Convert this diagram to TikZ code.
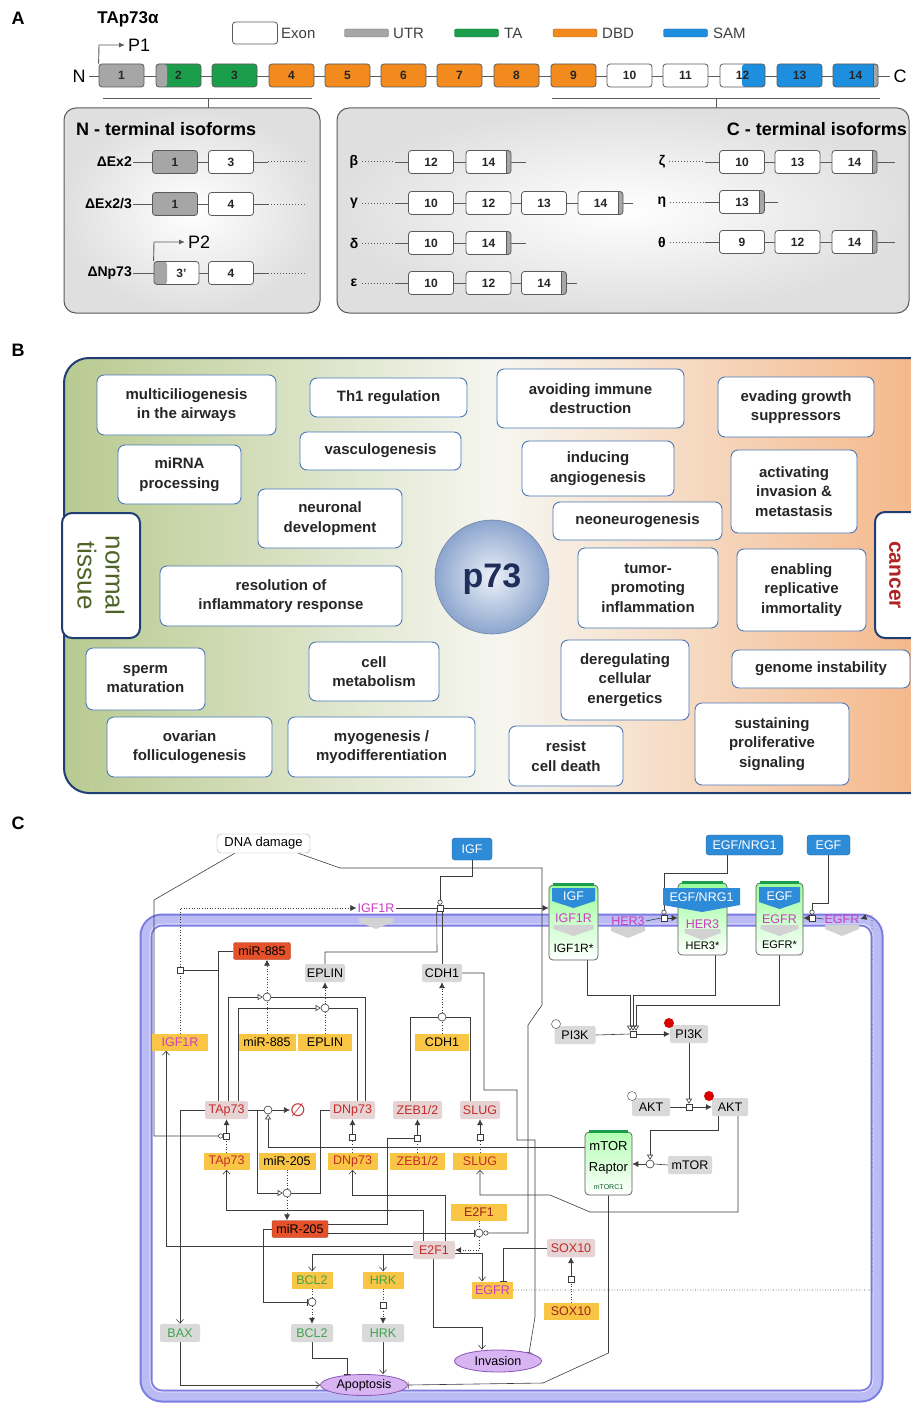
\documentclass[tikz,border=0pt]{standalone}
\usepackage{fontspec}
\setmainfont{Liberation Sans}
\newfontfamily\djv{DejaVu Sans}
\usetikzlibrary{arrows.meta,shapes.geometric,calc}
\pgfdeclarelayer{mem}\pgfdeclarelayer{bg}\pgfsetlayers{mem,bg,main}
\newcommand\fsz[2]{\fontsize{#1}{#2}\selectfont}
\definecolor{exgrey}{HTML}{A6A6A6}
\definecolor{exgreen}{HTML}{1B9E4B}
\definecolor{exorange}{HTML}{F28A1E}
\definecolor{exblue}{HTML}{1E8FDF}
\definecolor{exline}{HTML}{5A5A5A}
\definecolor{navy}{HTML}{1F3D73}
\definecolor{bbord}{HTML}{4A78B8}
\definecolor{olive}{HTML}{B8CA90}
\definecolor{peach}{HTML}{F5B586}
\definecolor{bmid}{HTML}{F6F6F0}
\definecolor{tissue}{HTML}{4F6228}
\definecolor{cancerred}{HTML}{B22222}
\definecolor{geneY}{HTML}{F9C545}
\definecolor{protG}{HTML}{D9D9D9}
\definecolor{protR}{HTML}{E6D3D3}
\definecolor{mirR}{HTML}{E4512A}
\definecolor{txred}{HTML}{C42B2B}
\definecolor{txmag}{HTML}{CC3CC0}
\definecolor{txgreen}{HTML}{3FA34D}
\definecolor{igfblue}{HTML}{2E8BD8}
\definecolor{memout}{HTML}{7B7BE2}
\definecolor{memin}{HTML}{BCBCF4}
\definecolor{ellfill}{HTML}{D8B4F2}
\definecolor{ellline}{HTML}{8A55B5}
\definecolor{lncol}{HTML}{3C3C3C}
\definecolor{p73edge}{HTML}{8CA5CE}
\tikzset{
 exonbox/.style={draw=exline, line width=0.8pt, rounded corners=3pt, minimum width=45pt, minimum height=23pt, inner sep=0pt, font=\bfseries\fsz{12}{12}, text=black!85, fill=#1},
 exonbox/.default=white,
 capR/.style={path picture={\fill[exgrey] ([xshift=-5pt]path picture bounding box.south east) rectangle (path picture bounding box.north east); \draw[exline, line width=0.8pt] ([xshift=-5pt]path picture bounding box.south east) -- ([xshift=-5pt]path picture bounding box.north east);}},
 capL/.style={path picture={\fill[exgrey] (path picture bounding box.south west) rectangle ([xshift=#1]path picture bounding box.north west);}},
 halfblue/.style={path picture={\fill[exblue] ([xshift=-23pt]path picture bounding box.south east) rectangle (path picture bounding box.north east);}},
 legtxt/.style={anchor=west, font=\fsz{15}{15}, text=black!75, inner sep=0pt},
 legbar/.style={fill=#1, draw=#1!70!black, rounded corners=2pt, minimum width=44pt, minimum height=8pt, inner sep=0pt},
 isolab/.style={font=\bfseries\fsz{14}{14}, inner sep=1pt},
 exl/.style={draw=exline, line width=0.8pt},
 exd/.style={draw=exline, line width=1pt, dotted},
 bbox/.style={draw=bbord, line width=0.9pt, rounded corners=7pt, fill=white, align=center, inner sep=1pt, font=\bfseries\fsz{15}{19.5}, text=black!85},
 gene/.style={fill=geneY, inner sep=0pt, minimum height=17pt, font=\fsz{12.5}{14}},
 prot/.style={fill=protG, rounded corners=2pt, inner sep=0pt, minimum height=18pt, font=\fsz{12.5}{14}},
 protr/.style={prot, fill=protR},
 mir/.style={fill=mirR, draw=mirR!70!black, rounded corners=2pt, inner sep=0pt, minimum height=17pt, font=\fsz{12.5}{14}},
 proc/.style={draw=lncol, fill=white, minimum size=6pt, inner sep=0pt, line width=0.6pt},
 circ/.style={draw=lncol, fill=white, circle, minimum size=8pt, inner sep=0pt, line width=0.6pt},
 wire/.style={draw=lncol, line width=0.6pt},
 oa/.style={-{Straight Barb[length=4pt,width=7pt]}},
 fa/.style={-{Latex[length=6pt,width=6pt]}},
 bar/.style={-{Bar[width=7pt]}},
 cat/.style={-{Circle[open,length=5pt,width=5pt]}},
 tri/.style={-{Triangle[open,length=5pt,width=6pt]}},
 pheno/.style={ellipse, draw=ellline, fill=ellfill, line width=0.8pt, inner sep=0pt, font=\fsz{12.5}{14}},
 blu/.style={fill=igfblue, draw=igfblue!70!black, rounded corners=3pt, text=white, inner sep=0pt, font=\fsz{12.5}{14}},
 rtxt/.style={text=txmag, font=\fsz{12.5}{14}, inner sep=1pt},
 ctxt/.style={font=\fsz{12}{14}, inner sep=1pt},
}
\newcommand\grch[3]{\fill[gray!35] (#1-#3,#2) -- (#1+#3,#2) -- (#1+#3,#2+4) -- (#1,#2+11) -- (#1-#3,#2+4) -- cycle;}
\begin{document}
\begin{tikzpicture}[x=1pt,y=-1pt]
\useasboundingbox (0,0) rectangle (910,1407);
\begin{pgfonlayer}{mem}
\fill[white] (0,0) rectangle (910,1407);
\end{pgfonlayer}
% ================= PANEL A =================
\node[font=\bfseries\fsz{18}{18}] (labA) at (18,18) {A};
\node[font=\bfseries\fsz{17}{17}] (tap) at (128,19) {TAp73α};
\node[draw=exline, line width=0.8pt, rounded corners=3pt, minimum width=45pt, minimum height=22pt, inner sep=0pt] (lgEx) at (255,33) {};
\node[legtxt] (lgExT) at (281,33) {Exon};
\node[legbar=exgrey] (lgUTR) at (366.5,33) {};
\node[legtxt] (lgUTRT) at (393,33) {UTR};
\node[legbar=exgreen] (lgTA) at (476.5,33) {};
\node[legtxt] (lgTAT) at (504,33) {TA};
\node[legbar=exorange] (lgDBD) at (575,33) {};
\node[legtxt] (lgDBDT) at (602,33) {DBD};
\node[legbar=exblue] (lgSAM) at (685.5,33) {};
\node[legtxt] (lgSAMT) at (713,33) {SAM};
\node[font=\fsz{18}{18}] (Nt) at (79,76) {N};
\node[font=\fsz{18}{18}] (Ct) at (900,76) {C};
\draw[exl] (Nt.east) -- (Ct.west);
\node[exonbox=exgrey] (e1) at (121.5,75.5) {1};
\node[exonbox=exgreen, capL=11pt] (e2) at (178.5,75.5) {2};
\node[exonbox=exgreen] (e3) at (234.5,75.5) {3};
\node[exonbox=exorange] (e4) at (291.5,75.5) {4};
\node[exonbox=exorange] (e5) at (347.5,75.5) {5};
\node[exonbox=exorange] (e6) at (403.5,75.5) {6};
\node[exonbox=exorange] (e7) at (459.5,75.5) {7};
\node[exonbox=exorange] (e8) at (516.5,75.5) {8};
\node[exonbox=exorange] (e9) at (573.5,75.5) {9};
\node[exonbox] (e10) at (629.5,75.5) {10};
\node[exonbox] (e11) at (685.5,75.5) {11};
\node[exonbox, halfblue] (e12) at (742.5,75.5) {12};
\node[exonbox=exblue] (e13) at (799.5,75.5) {13};
\node[exonbox=exblue, capR] (e14) at (855.5,75.5) {14};
\node[font=\fsz{18}{18}, anchor=west, inner sep=0pt] (P1) at (128,45) {P1};
\draw[exl, line width=0.9pt, -{Latex[length=6pt,width=5pt]}] (e1.north west) -- (99,45) -- ([xshift=-3pt]P1.west);
% brackets
\coordinate (brL) at (208,108);
\coordinate (brR) at (716,108);
\draw[exl] (103,98) -- (312,98) (208,98) -- (brL);
\draw[exl] (552,98) -- (880,98) (716,98) -- (brR);
% N-terminal box
\shade[inner color=white, outer color=gray!25, rounded corners=12pt] (64,108) rectangle (320,313);
\draw[exline, line width=1pt, rounded corners=12pt] (64,108) rectangle (320,313);
\node[anchor=west, font=\bfseries\fsz{18}{18}, inner sep=0pt] (ntit) at (76,129) {N - terminal isoforms};
\node[isolab, anchor=east] (lEx2) at (133,162) {ΔEx2};
\draw[exl] (lEx2.east) -- (268,162); \draw[exd] (268,162) -- (307,162);
\node[exonbox=exgrey] (n1a) at (175,162) {1};
\node[exonbox] (n1b) at (231,162) {3};
\node[isolab, anchor=east] (lEx23) at (133,204) {ΔEx2/3};
\draw[exl] (lEx23.east) -- (268,204); \draw[exd] (268,204) -- (307,204);
\node[exonbox=exgrey] (n2a) at (175,204) {1};
\node[exonbox] (n2b) at (231,204) {4};
\node[isolab, anchor=east] (lDN) at (133,273) {ΔNp73};
\draw[exl] (lDN.east) -- (268,273); \draw[exd] (268,273) -- (307,273);
\node[exonbox, capL=13pt] (n3a) at (176.5,273) {\hspace{10pt}3'};
\node[exonbox] (n3b) at (231,273) {4};
\node[font=\fsz{18}{18}, anchor=west, inner sep=0pt] (P2) at (188,242) {P2};
\draw[exl, line width=0.9pt, -{Latex[length=6pt,width=5pt]}] (n3a.north west) -- (154,242) -- ([xshift=-3pt]P2.west);
% C-terminal box
\shade[inner color=white, outer color=gray!25, rounded corners=12pt] (337,108) rectangle (909,313);
\draw[exline, line width=1pt, rounded corners=12pt] (337,108) rectangle (909,313);
\node[anchor=east, font=\bfseries\fsz{18}{18}, inner sep=0pt] (ctit) at (907,129) {C - terminal isoforms};
% beta
\node[isolab] (lb) at (354,162) {β};
\draw[exd] ([xshift=3pt]lb.east) -- (395,162); \draw[exl] (395,162) -- (526,162);
\node[exonbox] (b12) at (431,162) {12};
\node[exonbox, capR] (b14) at (488.5,162) {14};
% gamma
\node[isolab] (lg) at (354,203) {γ};
\draw[exd] ([xshift=3pt]lg.east) -- (395,203); \draw[exl] (395,203) -- (633,203);
\node[exonbox] (g10) at (431,203) {10};
\node[exonbox] (g12) at (488.5,203) {12};
\node[exonbox] (g13) at (544,203) {13};
\node[exonbox, capR] (g14) at (600.5,203) {14};
% delta
\node[isolab] (ld) at (354,243) {δ};
\draw[exd] ([xshift=3pt]ld.east) -- (395,243); \draw[exl] (395,243) -- (526,243);
\node[exonbox] (d10) at (431,243) {10};
\node[exonbox, capR] (d14) at (488.5,243) {14};
% epsilon
\node[isolab] (le) at (354,283) {ε};
\draw[exd] ([xshift=3pt]le.east) -- (395,283); \draw[exl] (395,283) -- (577,283);
\node[exonbox] (p10) at (431,283) {10};
\node[exonbox] (p12) at (488.5,283) {12};
\node[exonbox, capR] (p14) at (544,283) {14};
% zeta
\node[isolab] (lz) at (662,162) {ζ};
\draw[exd] ([xshift=3pt]lz.east) -- (705,162); \draw[exl] (705,162) -- (895,162);
\node[exonbox] (z10) at (742,162) {10};
\node[exonbox] (z13) at (797.5,162) {13};
\node[exonbox, capR] (z14) at (854.5,162) {14};
% eta
\node[isolab] (lh) at (662,202) {η};
\draw[exd] ([xshift=3pt]lh.east) -- (705,202); \draw[exl] (705,202) -- (778,202);
\node[exonbox, capR] (h13) at (742,202) {13};
% theta
\node[isolab] (lt) at (662,242) {θ};
\draw[exd] ([xshift=3pt]lt.east) -- (705,242); \draw[exl] (705,242) -- (895,242);
\node[exonbox] (t9) at (742,242) {9};
\node[exonbox] (t12) at (797.5,242) {12};
\node[exonbox, capR] (t14) at (854.5,242) {14};
% ================= PANEL B =================
\node[font=\bfseries\fsz{18}{18}] (labB) at (18,350) {B};
\shade[left color=olive, right color=peach, middle color=bmid, rounded corners=25pt] (64,358) rectangle (935,793);
\draw[navy, line width=2pt, rounded corners=25pt] (64,358) rectangle (935,793);
\draw[navy, line width=2pt, fill=white, rounded corners=10pt] (62,513) rectangle (140,638);
\node[rotate=-90, align=center, text=tissue, font=\fsz{26}{28}] (normal) at (101,575.5) {normal\\tissue};
\draw[navy, line width=2pt, fill=white, rounded corners=10pt] (875,512) rectangle (935,638);
\node[rotate=-90, text=cancerred, font=\bfseries\fsz{21}{24}] (cancer) at (895,575) {cancer};
\node[bbox, minimum width=179pt, minimum height=60pt] (b1) at (186.5,405) {multiciliogenesis\\in the airways};
\node[bbox, minimum width=157pt, minimum height=39pt] (b2) at (388.5,397.5) {Th1 regulation};
\node[bbox, minimum width=123pt, minimum height=59pt] (b3) at (179.5,474.5) {miRNA\\processing};
\node[bbox, minimum width=161pt, minimum height=38pt] (b4) at (380.5,451) {vasculogenesis};
\node[bbox, minimum width=144pt, minimum height=59pt] (b5) at (330,518.5) {neuronal\\development};
\node[bbox, minimum width=242pt, minimum height=60pt] (b6) at (281,596) {resolution of\\inflammatory response};
\node[bbox, minimum width=119pt, minimum height=62pt] (b7) at (145.5,679) {sperm\\maturation};
\node[bbox, minimum width=130pt, minimum height=59pt] (b8) at (374,671.5) {cell\\metabolism};
\node[bbox, minimum width=165pt, minimum height=60pt] (b9) at (189.5,747) {ovarian\\folliculogenesis};
\node[bbox, minimum width=187pt, minimum height=60pt] (b10) at (381.5,747) {myogenesis /\\myodifferentiation};
\node[bbox, minimum width=187pt, minimum height=59pt] (b11) at (590.5,398.5) {avoiding immune\\destruction};
\node[bbox, minimum width=156pt, minimum height=60pt] (b12) at (796,407) {evading growth\\suppressors};
\node[bbox, minimum width=152pt, minimum height=55pt] (b13) at (598,468.5) {inducing\\angiogenesis};
\node[bbox, minimum width=126pt, minimum height=83pt] (b14) at (794,491.5) {activating\\invasion \&\\metastasis};
\node[bbox, minimum width=169pt, minimum height=38pt] (b15) at (637.5,521) {neoneurogenesis};
\node[bbox, minimum width=140pt, minimum height=80pt] (b16) at (648,588) {tumor-\\promoting\\inflammation};
\node[bbox, minimum width=129pt, minimum height=82pt] (b17) at (801.5,590) {enabling\\replicative\\immortality};
\node[bbox, minimum width=128pt, minimum height=80pt] (b18) at (625,680) {deregulating\\cellular\\energetics};
\node[bbox, minimum width=178pt, minimum height=38pt] (b19) at (821,669) {genome instability};
\node[bbox, minimum width=114pt, minimum height=60pt] (b20) at (566,756) {resist\\cell death};
\node[bbox, minimum width=154pt, minimum height=82pt] (b21) at (772,744) {sustaining\\proliferative\\signaling};
\shade[inner color={rgb,255:red,236;green,241;blue,248}, outer color=p73edge] (492,577) circle[radius=57pt];
\draw[p73edge!80!black, line width=0.6pt] (492,577) circle[radius=57pt];
\node[font=\bfseries\fsz{34}{34}, text={rgb,255:red,31;green,45;blue,90}] (p73) at (492,579) {p73};
% ================= PANEL C =================
\node[font=\bfseries\fsz{18}{18}] (labC) at (18,823) {C};
\begin{pgfonlayer}{mem}
\draw[memout, line width=13pt, rounded corners=16pt] (146,920) rectangle (877,1396);
\draw[memin, line width=9pt, rounded corners=16pt] (146,920) rectangle (877,1396);
\draw[white!70!memin, line width=0.8pt, rounded corners=12pt] (150,924) rectangle (873,1392);
\end{pgfonlayer}
\node[draw=gray!70, fill=white, rounded corners=4pt, minimum width=93pt, minimum height=19pt, inner sep=0pt, font=\fsz{13}{14}] (dna) at (263.5,843.5) {DNA damage};
\node[blu, minimum width=40pt, minimum height=22pt] (igf) at (472,849) {IGF};
\node[blu, minimum width=77pt, minimum height=20pt] (egfnrg) at (744.5,845) {EGF/NRG1};
\node[blu, minimum width=43pt, minimum height=20pt] (egf) at (828.5,845) {EGF};
% free receptors
\grch{376}{918}{17}
\node[rtxt] (rIGF1R) at (376,908) {IGF1R};
\grch{628}{927}{17}
\node[rtxt] (rHER3) at (628,921) {HER3};
\grch{842}{925}{17}
\node[rtxt] (rEGFR) at (842,919) {EGFR};
% complexes
\node[draw=exline, line width=0.7pt, rounded corners=4pt, minimum width=49pt, minimum height=75pt, top color=green!40!white, bottom color=white, inner sep=0pt] (cIGF) at (573.5,922.5) {};
\draw[exgreen, line width=2.5pt] ([xshift=4pt]cIGF.north west) -- ([xshift=-4pt]cIGF.north east);
\fill[igfblue] (552,888) -- (595,888) -- (595,901) -- (573.5,908) -- (552,901) -- cycle;
\node[ctxt, text=white, font=\fsz{12.5}{14}] (tIGF) at (573.5,896) {IGF};
\grch{573.5}{925}{20}
\node[rtxt] (tIGF1R) at (573.5,918) {IGF1R};
\node[ctxt] (tIGF1Rs) at (573.5,948) {IGF1R*};
\node[draw=exline, line width=0.7pt, rounded corners=4pt, minimum width=49pt, minimum height=72pt, top color=green!40!white, bottom color=white, inner sep=0pt] (cHER3) at (702.5,919) {};
\draw[exgreen, line width=2.5pt] ([xshift=4pt]cHER3.north west) -- ([xshift=-4pt]cHER3.north east);
\fill[igfblue] (663,888) -- (740,888) -- (740,905) -- (702,912) -- (663,905) -- cycle;
\node[ctxt, text=white, font=\fsz{12.5}{14}] (tEN) at (701.5,897) {EGF/NRG1};
\grch{702.5}{929}{18}
\node[rtxt] (tHER3) at (702.5,924) {HER3};
\node[ctxt, font=\fsz{11}{13}] (tHER3s) at (702.5,946) {HER3*};
\node[draw=exline, line width=0.7pt, rounded corners=4pt, minimum width=47pt, minimum height=72pt, top color=green!40!white, bottom color=white, inner sep=0pt] (cEGF) at (779.5,919) {};
\draw[exgreen, line width=2.5pt] ([xshift=4pt]cEGF.north west) -- ([xshift=-4pt]cEGF.north east);
\fill[igfblue] (759,887) -- (800,887) -- (800,902) -- (779.5,909) -- (759,902) -- cycle;
\node[ctxt, text=white, font=\fsz{12.5}{14}] (tEGF) at (779.5,896) {EGF};
\grch{779.5}{925}{19}
\node[rtxt] (tEGFR) at (779.5,919) {EGFR};
\node[ctxt, font=\fsz{11}{13}] (tEGFRs) at (779.5,945) {EGFR*};
% species
\node[mir, minimum width=57pt] (mir885) at (262,951) {miR-885};
\node[prot, minimum width=40pt] (eplinP) at (325,973) {EPLIN};
\node[prot, minimum width=40pt] (cdh1P) at (442,973) {CDH1};
\node[gene, minimum width=56pt, text=txmag] (igf1rG) at (180,1042) {IGF1R};
\node[gene, minimum width=57pt] (mir885G) at (267,1042) {miR-885};
\node[gene, minimum width=54pt] (eplinG) at (325,1042) {EPLIN};
\node[gene, minimum width=54pt] (cdh1G) at (442,1042) {CDH1};
\node[protr, minimum width=43pt, text=txred] (tap73P) at (226.5,1110) {TAp73};
\node[protr, minimum width=45pt, text=txred] (dnp73P) at (352.5,1110) {DNp73};
\node[protr, minimum width=49pt, text=txred] (zebP) at (417.5,1110) {ZEB1/2};
\node[protr, minimum width=40pt, text=txred] (slugP) at (480,1110) {SLUG};
\node[gene, minimum width=46pt, text=txred] (tap73G) at (226.5,1161) {TAp73};
\node[gene, minimum width=57pt] (mir205G) at (287,1161) {miR-205};
\node[gene, minimum width=50pt, text=txred] (dnp73G) at (352.5,1161) {DNp73};
\node[gene, minimum width=55pt, text=txred] (zebG) at (417.5,1161) {ZEB1/2};
\node[gene, minimum width=54pt, text=txred] (slugG) at (480,1161) {SLUG};
\node[gene, minimum width=56pt, text=txred!80!black] (e2f1G) at (479,1212) {E2F1};
\node[mir, minimum width=56pt] (mir205R) at (300,1229) {miR-205};
\node[protr, minimum width=42pt, text=txred] (e2f1P) at (434,1250) {E2F1};
\node[gene, minimum width=41pt, text=txgreen] (bcl2G) at (312,1280) {BCL2};
\node[gene, minimum width=41pt, text=txgreen] (hrkG) at (383,1280) {HRK};
\node[gene, minimum width=41pt, text=txmag] (egfrG) at (492.5,1290) {EGFR};
\node[protr, minimum width=48pt, text=txred] (sox10P) at (571,1248) {SOX10};
\node[gene, minimum width=55pt, text=txred!80!black] (sox10G) at (571,1311) {SOX10};
\node[prot, minimum width=40pt, text=txgreen] (baxP) at (180,1333) {BAX};
\node[prot, minimum width=42pt, text=txgreen] (bcl2P) at (312,1333) {BCL2};
\node[prot, minimum width=42pt, text=txgreen] (hrkP) at (383,1333) {HRK};
\node[pheno, minimum width=87pt, minimum height=22pt] (invasion) at (498,1361) {Invasion};
\node[pheno, minimum width=87pt, minimum height=21pt] (apop) at (364,1385) {Apoptosis};
\node[prot, minimum width=41pt] (pi3kA) at (575,1035) {PI3K};
\node[prot, minimum width=38pt] (pi3kB) at (689,1034) {PI3K};
\node[prot, minimum width=38pt] (aktA) at (651,1107) {AKT};
\node[prot, minimum width=36pt] (aktB) at (730,1107) {AKT};
\node[prot, minimum width=44pt] (mtor) at (690,1165) {mTOR};
\node[circle, draw=lncol, fill=white, minimum size=9pt, inner sep=0pt] (pi3kAc) at (556,1024) {};
\node[circle, fill=red!85!black, minimum size=10pt, inner sep=0pt] (pi3kBd) at (669,1023) {};
\node[circle, draw=lncol, fill=white, minimum size=9pt, inner sep=0pt] (aktAc) at (632,1096) {};
\node[circle, fill=red!85!black, minimum size=10pt, inner sep=0pt] (aktBd) at (709,1096) {};
\node[draw=exline, line width=0.7pt, rounded corners=4pt, minimum width=47pt, minimum height=63pt, top color=green!30!white, bottom color=white, inner sep=0pt] (mtorc) at (608.5,1163.5) {};
\draw[exgreen, line width=2.5pt] ([xshift=4pt]mtorc.north west) -- ([xshift=-4pt]mtorc.north east);
\node[font=\fsz{13}{14}, inner sep=0pt] (mtorcA) at (608.5,1146) {mTOR};
\node[font=\fsz{13}{14}, inner sep=0pt] (mtorcB) at (608.5,1168) {Raptor};
\node[font=\fsz{7}{8}, inner sep=0pt, text=exgreen!60!black] (mtorcC) at (608.5,1187) {mTORC1};
\node[text=txred, font=\djv\fsz{18}{18}, inner sep=0pt] (empty) at (298,1110) {∅};
% process nodes
\node[proc] (pIGF) at (440,908) {};
\node[proc] (pIGF1Rt) at (180,970) {};
\node[circ] (cMir885) at (267,997) {};
\node[circ] (cEplin) at (325,1008) {};
\node[circ] (cCdh1) at (442,1017) {};
\node[circ] (cDeg) at (268,1110) {};
\node[proc] (pTAp73) at (226.5,1136) {};
\node[proc] (pDN) at (352.5,1137) {};
\node[proc] (pZEB) at (417.5,1138) {};
\node[proc] (pSLUG) at (480,1137) {};
\node[circ] (cMir205) at (287,1193) {};
\node[circ] (cE2F1) at (479,1233) {};
\node[circ] (cBCL2) at (312,1302) {};
\node[proc] (pHRK) at (383,1305) {};
\node[proc] (pSOX) at (571,1279) {};
\node[proc] (pPI3K) at (633,1034) {};
\node[proc] (pAKT) at (689,1107) {};
\node[circ] (cMTOR) at (650,1164) {};
\node[proc] (pHER3) at (664,918) {};
\node[proc] (pEGF) at (812,918) {};
\begin{pgfonlayer}{bg}
% DNA damage
\draw[wire, cat] ([xshift=18pt]dna.south west) -- (154,900) -- (154,1136) -- (pTAp73.west);
\draw[wire, cat] ([xshift=-12pt]dna.south east) -- (340,868) -- (542,868) -- (542,1005) -- (528,1025) -- (528,1233) -- (cE2F1.east);
% receptor activation
\draw[wire, cat] (igf.south) -- (472,876) -- (440,876) -- (pIGF.north);
\draw[wire] (rIGF1R.east) -- (pIGF.west);
\draw[wire, fa] (pIGF.east) -- (pIGF.east -| cIGF.west);
\draw[wire] (eplinP.north) |- (437,952) -- (pIGF.south west);
\draw[wire] (cdh1P.north) -- (cdh1P.north |- pIGF.south);
\draw[wire] (rHER3.east) -- (pHER3.west);
\draw[wire, fa] (pHER3.east) -- (pHER3.east -| cHER3.west);
\draw[wire, cat] ([xshift=-17.5pt]egfnrg.south) -- (727,873) -- (664,873) -- (pHER3.north);
\draw[wire, cat] (egf.south) -- (828.5,903) -- (812,903) -- (pEGF.north);
\draw[wire] (rEGFR.west) -- (pEGF.east);
\draw[wire, fa] (pEGF.west) -- (pEGF.west -| cEGF.east);
% IGF1R translation
\draw[wire, dotted] (igf1rG.north) -- (pIGF1Rt.south);
\draw[wire, dotted, fa] (pIGF1Rt.north) -- (180,908) -- (rIGF1R.west);
\draw[wire, bar] (mir885.west) -- (218,951) -- (218,970) -- (pIGF1Rt.east);
\draw[wire] ([xshift=-8.5pt]tap73P.north) -- (218,970);
% transcription of miR-885, EPLIN, CDH1
\draw[wire, tri] ([xshift=1.5pt]tap73P.north) -- (228,997) -- (cMir885.west);
\draw[wire, tri] ([xshift=11.5pt]tap73P.north) -- (238,1008) -- (cEplin.west);
\draw[wire] ([xshift=12.5pt]dnp73P.north) -- (365,997) -- (cMir885.east);
\draw[wire] ([xshift=4.5pt]dnp73P.north) -- (357,1008) -- (cEplin.east);
\draw[wire, dotted] (mir885G.north) -- (cMir885.south);
\draw[wire, dotted, fa] (cMir885.north) -- (cMir885.north |- mir885.south);
\draw[wire, dotted] (eplinG.north) -- (cEplin.south);
\draw[wire, dotted, fa] (cEplin.north) -- (eplinP.south);
\draw[wire, dotted] (cdh1G.north) -- (cCdh1.south);
\draw[wire, dotted, fa] (cCdh1.north) -- (cdh1P.south);
\draw[wire] ([xshift=-7.5pt]zebP.north) -- (410,1017) -- (cCdh1.west);
\draw[wire] ([xshift=-10pt]slugP.north) -- (470,1017) -- (cCdh1.east);
\draw[wire, bar] (cdh1P.east) -- (484,973) -- (484,1090) -- (517,1090) -- (517,1140) -- (535,1140) -- (535,1317) -- (invasion.north east);
% TAp73 outputs
\draw[wire, oa] (tap73P.west) -- (180,1110) -- (baxP.north);
\draw[wire] (tap73P.east) -- (cDeg.west);
\draw[wire, fa] (cDeg.east) -- (empty.west);
\draw[wire, tri] ([yshift=16.5pt]mtorc.west) -- (268,1147) -- (cDeg.south);
\draw[wire, tri] (tap73P.east) -- (257,1110) -- (257,1193) -- (cMir205.west);
\draw[wire] (dnp73P.west) -- (320,1110) -- (320,1193) -- (cMir205.east);
\draw[wire, dotted] (mir205G.south) -- (cMir205.north);
\draw[wire, dotted, fa] (cMir205.south) -- (cMir205.south |- mir205R.north);
% translations
\draw[wire, dotted] (tap73G.north) -- (pTAp73.south);
\draw[wire, fa] (pTAp73.north) -- (tap73P.south);
\draw[wire, dotted] (dnp73G.north) -- (pDN.south);
\draw[wire, fa] (pDN.north) -- (dnp73P.south);
\draw[wire, dotted] (zebG.north) -- (pZEB.south);
\draw[wire, fa] (pZEB.north) -- (zebP.south);
\draw[wire, dotted] (slugG.north) -- (pSLUG.south);
\draw[wire, fa] (pSLUG.north) -- (slugP.south);
% miR-205 targets
\draw[wire, bar] ([yshift=5pt]mir205R.east) -- (387,1224) -- (387,1138) -- (pZEB.west);
\draw[wire, bar] ([yshift=-4pt]mir205R.east) -- (cE2F1.west);
\draw[wire, bar] (mir205R.west) -- (263,1229) -- (263,1302) -- (cBCL2.west);
% E2F1
\draw[wire, dotted] (e2f1G.south) -- (cE2F1.north);
\draw[wire, dotted, fa] (cE2F1.south) -- (479,1250) -- (e2f1P.east);
\draw[wire, oa] ([xshift=-11pt]e2f1P.north) -- (423,1210) -- (226.5,1210) -- (tap73G.south);
\draw[wire, oa] ([xshift=11pt]e2f1P.north) -- (445,1195) -- (352.5,1195) -- (dnp73G.south);
\draw[wire, oa] ([yshift=4pt]e2f1P.west) -- (166,1246) -- ([xshift=-14pt]igf1rG.south);
\draw[wire, oa] ([yshift=-4pt]e2f1P.west) -| (bcl2G.north);
\draw[wire, oa] ([yshift=-4pt]e2f1P.west) -| (hrkG.north);
\draw[wire, oa] ([yshift=-3pt]e2f1P.east) -- (482,1253) -- ([xshift=-10.5pt]egfrG.north);
\draw[wire, oa] ([xshift=-1pt]e2f1P.south) -- (433,1327) -- (482,1327) -- ([xshift=-16pt]invasion.north);
% SOX10 / EGFR
\draw[wire, bar] (sox10P.west) -- (503,1248) -- ([xshift=10.5pt]egfrG.north);
\draw[wire, dotted] (sox10G.north) -- (pSOX.south);
\draw[wire, fa] (pSOX.north) -- (sox10P.south);
\draw[wire, dotted, fa] (egfrG.east) -- (872,1290) -- (872,915) -- (rEGFR.east);
% BCL2 / HRK / apoptosis
\draw[wire, dotted] (bcl2G.south) -- (cBCL2.north);
\draw[wire, dotted, fa] (cBCL2.south) -- (bcl2P.north);
\draw[wire, dotted] (hrkG.south) -- (pHRK.north);
\draw[wire, dotted, fa] (pHRK.south) -- (hrkP.north);
\draw[wire, oa] (baxP.south) |- (apop.west);
\draw[wire, bar] (bcl2P.south) -- (312,1358) -- (347,1358) -- ([xshift=-17pt]apop.north);
\draw[wire, oa] (hrkP.south) -- ([xshift=19pt]apop.north);
\draw[wire, bar] (mtorc.south) -- (608.5,1353) -- (543,1383) -- (apop.east);
% PI3K / AKT / mTOR
\draw[wire, tri] ([xshift=13.5pt]cIGF.south) -- (587,995) -- (630,995) -- ([xshift=-3pt]pPI3K.north);
\draw[wire, tri] ([xshift=12.5pt]cHER3.south) -- (715,995) -- (633,995) -- (pPI3K.north);
\draw[wire, tri] (cEGF.south) -- (779.5,1005) -- (636,1005) -- ([xshift=3pt]pPI3K.north);
\draw[wire] (pi3kA.east) -- (pPI3K.west);
\draw[wire, fa] (pPI3K.east) -- (pi3kB.west);
\draw[wire, tri] (pi3kB.south) -- (pAKT.north);
\draw[wire] (aktA.east) -- (pAKT.west);
\draw[wire, fa] (pAKT.east) -- (aktB.west);
\draw[wire, tri] ([xshift=-12pt]aktB.south) -- (718,1130) -- (650,1130) -- (cMTOR.north);
\draw[wire] (mtor.west) -- (cMTOR.east);
\draw[wire, fa] (cMTOR.west) -- (cMTOR.west -| mtorc.east);
\draw[wire, oa] ([xshift=8pt]aktB.south) -- (738,1212) -- (590,1212) -- (550,1195) -- (480,1195) -- (slugG.south);
\end{pgfonlayer}
\end{tikzpicture}
\end{document}
